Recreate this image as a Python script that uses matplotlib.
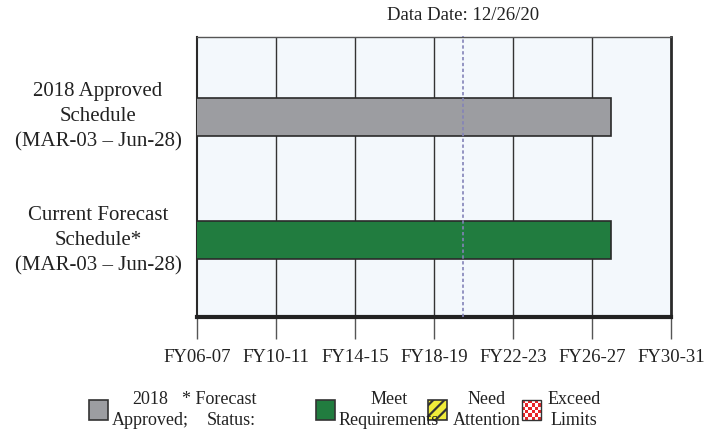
import matplotlib
matplotlib.use("Agg")
import matplotlib.pyplot as plt
from matplotlib.patches import Rectangle

plt.rcParams['font.family'] = ['Liberation Serif', 'DejaVu Serif']

# Schedule data (decimal years)
schedules = ["2018 Approved\nSchedule\n(MAR-03 \u2013 Jun-28)",
             "Current Forecast\nSchedule*\n(MAR-03 \u2013 Jun-28)"]
starts = [2003.17, 2003.17]
ends = [2028.45, 2028.45]
bar_colors = ["#9c9da1", "#217c3f"]
data_date = 2020.986
data_date_label = "Data Date: 12/26/20"
tick_pos = [2007.5, 2011.5, 2015.5, 2019.5, 2023.5, 2027.5, 2031.5]
tick_labels = ["FY06-07", "FY10-11", "FY14-15", "FY18-19", "FY22-23", "FY26-27", "FY30-31"]

W, H = 719, 430
fig = plt.figure(figsize=(W / 100, H / 100), dpi=100)
ax = fig.add_axes([197 / W, (H - 317) / H, (671 - 197) / W, (317 - 37) / H])
ax.set_facecolor("#f3f8fc")

ax.set_xlim(tick_pos[0], tick_pos[-1])
ax.set_ylim(-0.624, 1.654)
ypos = [1, 0]

for y, s, e, c in zip(ypos, starts, ends, bar_colors):
    ax.barh(y, e - s, left=s, height=0.31, color=c, edgecolor="#2a2a2a",
            linewidth=1.2, zorder=3)

for x in tick_pos[1:-1]:
    ax.axvline(x, color="#333333", linewidth=1.0, zorder=1)

ax.axvline(data_date, color="#8383b8", linewidth=1.2, linestyle=(0, (2, 1.5)),
           zorder=4, ymax=1.005, clip_on=False)
ax.text(data_date, 1.045, data_date_label, transform=ax.get_xaxis_transform(),
        ha="center", va="bottom", fontsize=13.5, color="#222222")

ax.set_xticks(tick_pos)
ax.set_xticklabels(tick_labels, fontsize=13.5, color="#222222")
ax.tick_params(axis="x", direction="out", length=16, width=1.0, color="#555555", pad=7)
ax.set_yticks([])

for side in ["left", "right", "top"]:
    ax.spines[side].set_color("#2a2a2a")
ax.spines["left"].set_linewidth(1.5)
ax.spines["right"].set_linewidth(2.0)
ax.spines["top"].set_linewidth(1.0)
ax.spines["top"].set_color("#555555")
ax.spines["bottom"].set_linewidth(3.0)
ax.spines["bottom"].set_color("#222222")

# Row labels
label_y_px = [117, 241]
for py, lab in zip(label_y_px, schedules):
    fig.text(98 / W, 1 - py / H, lab, ha="center", va="center", fontsize=15,
             color="#222222", linespacing=1.42)

# Legend
plt.rcParams['hatch.linewidth'] = 1.6
plt.rcParams['hatch.color'] = "#333333"


def box(x0, color, hatch=None):
    r = Rectangle((x0 / W, 1 - 420 / H), 19 / W, 20 / H, transform=fig.transFigure,
                  facecolor=color, edgecolor="#333333", linewidth=1.2,
                  hatch=hatch)
    fig.patches.append(r)


lg_y = 1 - 410 / H
box(89, "#9c9da1")
fig.text(150 / W, lg_y, "2018\nApproved;", ha="center", va="center", fontsize=13,
         color="#222222", linespacing=1.3)
fig.text(256 / W, lg_y, "* Forecast\nStatus:", ha="right", va="center", fontsize=13,
         color="#222222", linespacing=1.3, multialignment="right")
box(316, "#217c3f")
fig.text(389 / W, lg_y, "Meet\nRequirements", ha="center", va="center", fontsize=13,
         color="#222222", linespacing=1.3)
box(428, "#f0ec3a", hatch="///")
fig.text(487 / W, lg_y, "Need\nAttention", ha="center", va="center", fontsize=13,
         color="#222222", linespacing=1.3)
# red checkered box
cx0, cy0, cs = 522, 400, 19
n = 6
for i in range(n):
    for j in range(n):
        col = "#e8262a" if (i + j) % 2 == 0 else "#ffffff"
        fig.patches.append(Rectangle(((cx0 + i * cs / n) / W, 1 - (cy0 + (j + 1) * 20 / n) / H),
                                     cs / n / W, 20 / n / H, transform=fig.transFigure,
                                     facecolor=col, edgecolor="none"))
fig.patches.append(Rectangle((cx0 / W, 1 - 420 / H), cs / W, 20 / H, transform=fig.transFigure,
                             facecolor="none", edgecolor="#333333", linewidth=1.0))
fig.text(574 / W, lg_y, "Exceed\nLimits", ha="center", va="center", fontsize=13,
         color="#222222", linespacing=1.3)

fig.savefig("out.png", dpi=100)
